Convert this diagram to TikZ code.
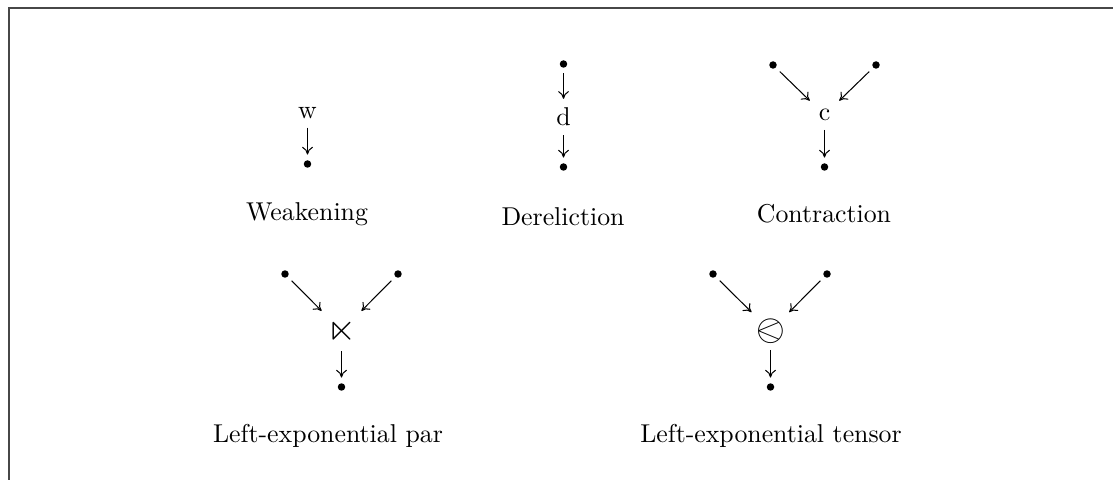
\documentclass[tikz,border=0pt]{standalone}
\usepackage{amssymb}
\usepackage{stmaryrd}
\usetikzlibrary{arrows.meta}
\begin{document}
\begin{tikzpicture}[x=0.3876pt,y=-0.3876pt,
  dot/.style={circle,fill=black,inner sep=0pt,minimum size=2.9pt,outer sep=2.2pt},
  op/.style={inner sep=2.5pt,outer sep=1pt},
  conn/.style={-{To[length=3pt,width=4.2pt]},line width=0.4pt},
  lbl/.style={inner sep=0pt},
  frameline/.style={draw=black!72,line width=0.55pt}]
\useasboundingbox (0,0) rectangle (1113,480);
\draw[frameline] (9,480) -- (9,8) -- (1113,8);
% Weakening
\node[op] (w) at (307.5,113) {w};
\node[dot] (w1) at (307.5,164) {};
\draw[conn] (w) -- (w1);
\node[lbl] (lw) at (307,214) {Weakening};
% Dereliction
\node[dot] (d0) at (563.5,64) {};
\node[op] (d) at (563.5,117) {d};
\node[dot] (d1) at (563.5,167) {};
\draw[conn] (d0) -- (d);
\draw[conn] (d) -- (d1);
\node[lbl] (ld) at (563,217) {Dereliction};
% Contraction
\node[dot] (c0) at (773,65) {};
\node[dot] (c2) at (876,65) {};
\node[op] (c) at (824.5,115) {c};
\node[dot] (c1) at (824.5,167) {};
\draw[conn] (c0) -- (c);
\draw[conn] (c2) -- (c);
\draw[conn] (c) -- (c1);
\node[lbl] (lc) at (824,214) {Contraction};
% Left-exponential par
\node[dot] (p0) at (285,274) {};
\node[dot] (p2) at (398,274) {};
\node[op,inner sep=2pt] (p) at (341.5,331) {\Large$\ltimes$};
\node[dot] (p1) at (341.5,387) {};
\draw[conn] (p0) -- (p);
\draw[conn] (p2) -- (p);
\draw[conn] (p) -- (p1);
\node[lbl] (lp) at (328,436) {Left-exponential par};
% Left-exponential tensor
\node[dot] (t0) at (713,274) {};
\node[dot] (t2) at (827,274) {};
\node[op,inner sep=1.5pt] (t) at (770.5,331) {\Large$\olessthan$};
\node[dot] (t1) at (770.5,387) {};
\draw[conn] (t0) -- (t);
\draw[conn] (t2) -- (t);
\draw[conn] (t) -- (t1);
\node[lbl] (lt) at (771,436) {Left-exponential tensor};
\end{tikzpicture}
\end{document}
